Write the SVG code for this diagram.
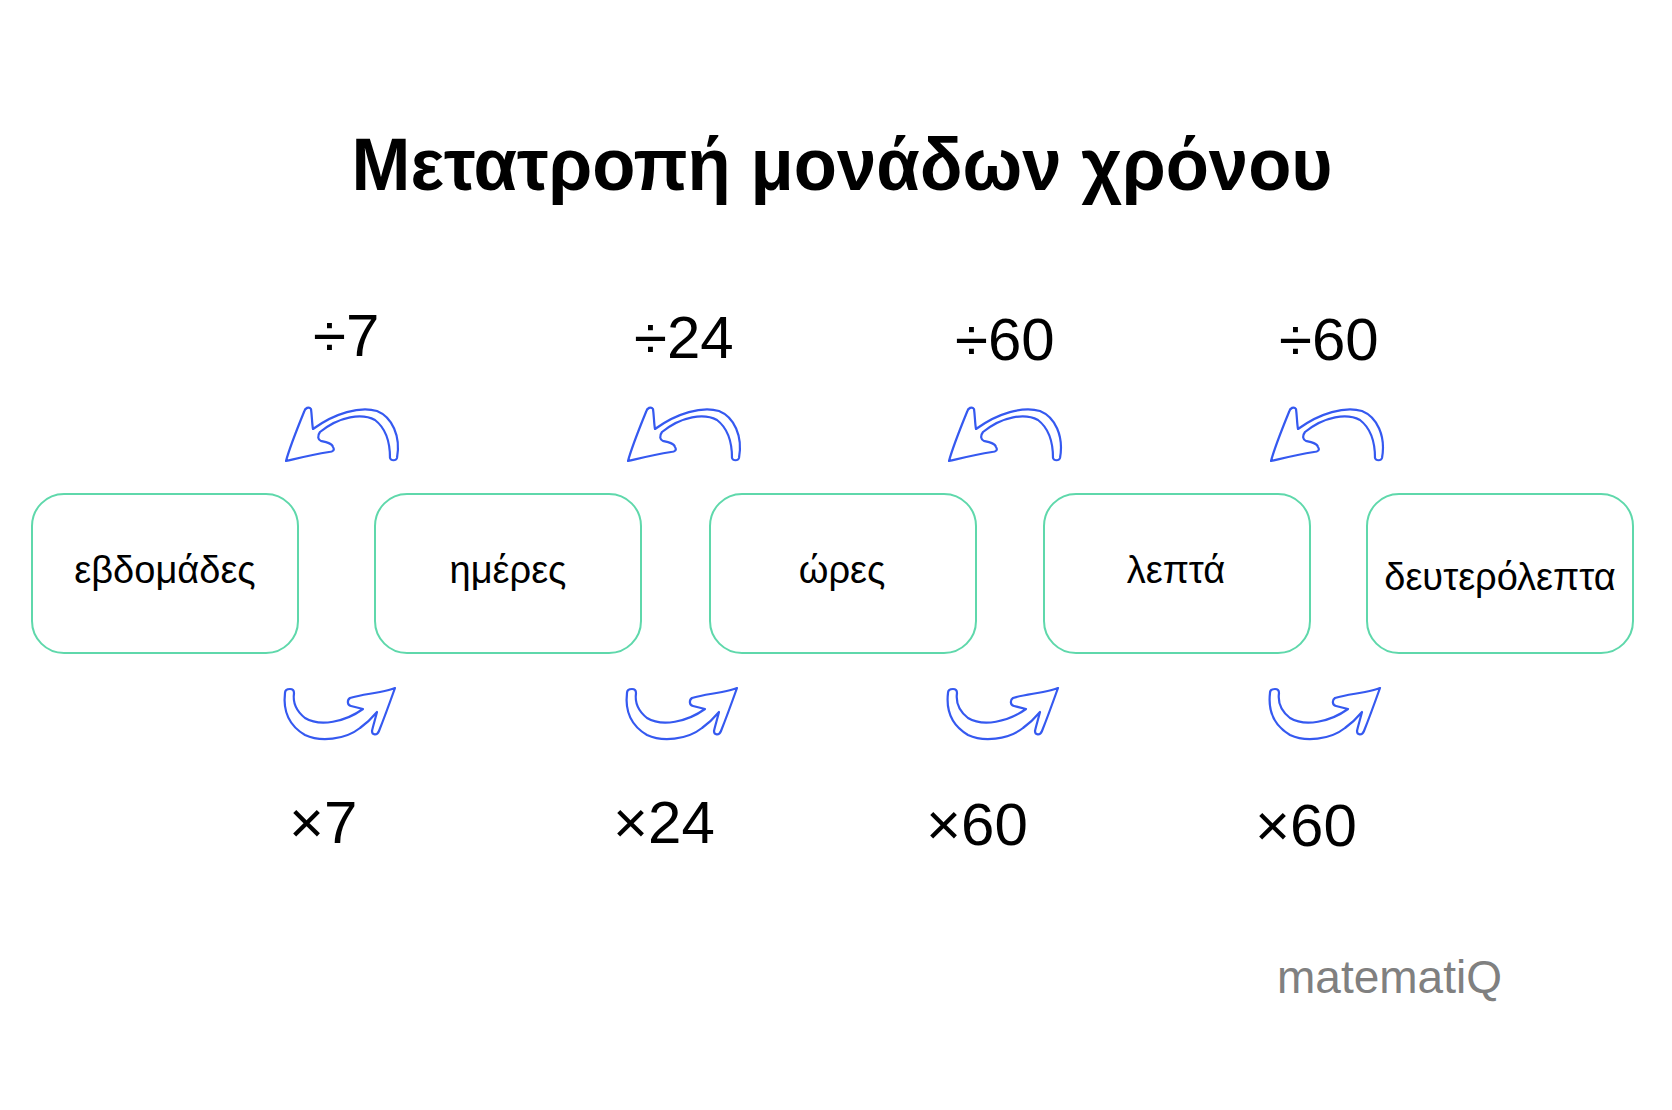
<svg xmlns="http://www.w3.org/2000/svg" width="1672" height="1110" viewBox="0 0 1672 1110">
<defs>
<style>
.box{fill:#fff;stroke:#5fd8ab;stroke-width:2}
.lbl{font-family:"Liberation Sans",Arial,sans-serif;font-size:38px;fill:#000;text-anchor:middle}
.op{font-family:"Liberation Sans",Arial,sans-serif;font-size:60px;fill:#000}
.arr{fill:none;stroke:#3559f0;stroke-width:2.2;stroke-linejoin:round}
</style>
<path id="up" d="M6,61 C9,50 15,34 24,12 C25,8 29,6 31,9 C32,16 32,24 33,29 C55,13 80,6 97,11 C112,17 121,36 117,58 C116,61 111,61 110,58 C110,46 108,30 95,20 C82,13 60,16 40,32 C37,36 38,40 41,41 C46,42 52,43 53,47 C55,50 53,52 49,52 C30,55 15,59 6,61 Z"/>
<path id="down" d="M10,9 C6,9 5,11 5,13 C3,30 8,45 25,55 C40,62 65,60 80,48 C87,43 92,38 97,32 C95,40 93,46 92,51 C92,55 97,56 99,51 C105,36 110,22 115,8 C110,10 105,11 100,12 C90,14 80,15 70,18 C67,20 67,25 71,26 C75,27 79,28 83,29 C65,42 40,47 25,38 C15,30 13,20 14,13 C14,10 12,9 10,9 Z"/>
</defs>
<rect width="1672" height="1110" fill="#fff"/>
<text x="842" y="190" font-family="'Liberation Sans',Arial,sans-serif" font-size="75" font-weight="bold" text-anchor="middle" textLength="981" lengthAdjust="spacingAndGlyphs">Μετατροπή μονάδων χρόνου</text>

<g id="connectors">
<use href="#up" class="arr" transform="translate(280,400)"/>
<use href="#up" class="arr" transform="translate(622,400)"/>
<use href="#up" class="arr" transform="translate(943,400)"/>
<use href="#up" class="arr" transform="translate(1265,400)"/>
<use href="#down" class="arr" transform="translate(280,680)"/>
<use href="#down" class="arr" transform="translate(622,680)"/>
<use href="#down" class="arr" transform="translate(943,680)"/>
<use href="#down" class="arr" transform="translate(1265,680)"/>
</g>

<g id="labels">
<text class="op" x="313" y="356">÷7</text>
<text class="op" x="634" y="358">÷24</text>
<text class="op" x="955" y="360">÷60</text>
<text class="op" x="1279" y="360">÷60</text>
<text class="op" x="289" y="843">×7</text>
<text class="op" x="613" y="843">×24</text>
<text class="op" x="926" y="845">×60</text>
<text class="op" x="1255" y="846">×60</text>
</g>

<g id="n1"><rect class="box" x="32" y="494" width="266" height="159" rx="32"/><text class="lbl" x="165" y="583">εβδομάδες</text></g>
<g id="n2"><rect class="box" x="375" y="494" width="266" height="159" rx="32"/><text class="lbl" x="508" y="583">ημέρες</text></g>
<g id="n3"><rect class="box" x="710" y="494" width="266" height="159" rx="32"/><text class="lbl" x="842" y="583">ώρες</text></g>
<g id="n4"><rect class="box" x="1044" y="494" width="266" height="159" rx="32"/><text class="lbl" x="1176" y="583">λεπτά</text></g>
<g id="n5"><rect class="box" x="1367" y="494" width="266" height="159" rx="32"/><text class="lbl" x="1500" y="590">δευτερόλεπτα</text></g>

<text x="1277" y="993" font-family="'Liberation Sans',Arial,sans-serif" font-size="46" fill="#808080">matematiQ</text>
</svg>
